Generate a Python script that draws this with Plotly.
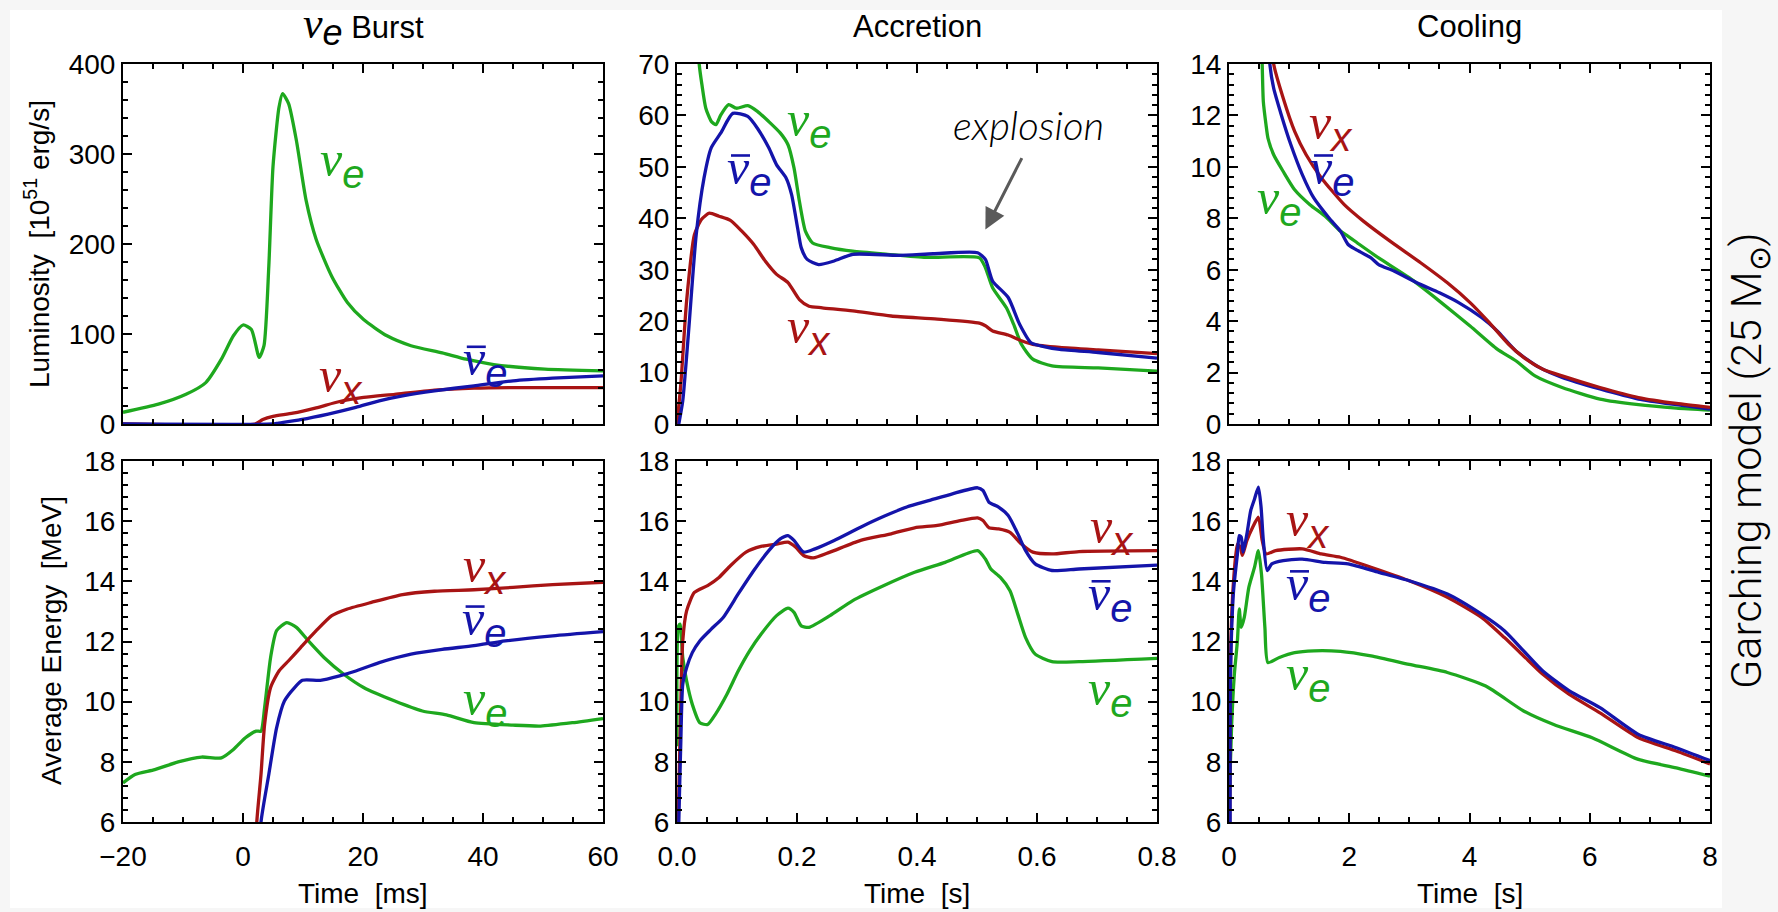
import plotly.graph_objects as go

# ---------------- data ----------------
# Panel 1: nu_e burst, luminosity [1e51 erg/s] vs time [ms]
lb_t_e = [-20, -14.1, -9.5, -6.2, -3.6, -1.6, 0, 1.4, 2.7, 3.5, 4.3, 5.0, 6.0, 6.6, 7.6, 8.9, 10.5,
          12.2, 14.8, 17.4, 20.1, 24.0, 28.0, 33.2, 37.2, 41.8, 50.3, 60]
lb_L_e = [13, 22, 33, 46, 72, 98, 110, 105, 74, 87, 175, 286, 352, 367, 356, 315, 249,
          205, 164, 135, 116, 98, 87, 79, 72, 66, 61, 59]
lb_t_x = [-20, 2.0, 3.3, 5.0, 8.3, 12.2, 16.1, 20.1, 25.3, 31.9, 38.5, 45, 60]
lb_L_x = [0, 0, 5, 8.5, 12, 18, 25, 29.5, 33, 37.6, 39.8, 40.5, 40.5]
lb_t_a = [-20, 5.0, 5.6, 9.6, 14.2, 18.8, 22.7, 26.6, 31.9, 38.5, 45, 51.6, 60]
lb_L_a = [0, 0, 0.7, 4.8, 11, 18.4, 25.8, 31.3, 36.9, 42.4, 48, 51, 53.5]

# Panel 2: accretion, luminosity vs time [s]
la_t_e = [0.03, 0.037, 0.0415, 0.048, 0.0574, 0.065, 0.073, 0.086, 0.099, 0.118, 0.134, 0.153, 0.172,
          0.185, 0.195, 0.204, 0.214, 0.226, 0.255, 0.293, 0.351, 0.415, 0.504, 0.514, 0.526, 0.549,
          0.561, 0.574, 0.593, 0.625, 0.702, 0.8]
la_L_e = [85, 70, 66, 61.4, 58.8, 58.2, 60.1, 62.1, 61.4, 61.9, 60.8, 58.8, 56.6,
          54.3, 49.8, 43.3, 37.5, 35.2, 34.3, 33.6, 33.0, 32.4, 32.3, 30.4, 26.5, 22.6,
          19.4, 15.5, 12.6, 11.3, 10.9, 10.3]
la_t_a = [0.003, 0.0096, 0.019, 0.032, 0.045, 0.057, 0.073, 0.093, 0.118, 0.134, 0.153, 0.166, 0.182,
          0.191, 0.201, 0.207, 0.217, 0.236, 0.262, 0.293, 0.37, 0.427, 0.501, 0.514, 0.526, 0.552,
          0.571, 0.590, 0.606, 0.638, 0.702, 0.8]
la_L_a = [0, 4.5, 17.5, 36.8, 47.8, 53.7, 56.6, 60.4, 59.8, 57.5, 53.7, 50.4, 47.8,
          44.6, 38.1, 34.3, 32.0, 31.0, 31.7, 33.0, 32.8, 33.1, 33.3, 32.0, 27.8, 24.6,
          19.4, 15.8, 15.2, 14.5, 13.9, 12.8]
la_t_x = [0, 0.0064, 0.016, 0.029, 0.041, 0.054, 0.070, 0.089, 0.108, 0.128, 0.147, 0.166, 0.185,
          0.204, 0.220, 0.242, 0.293, 0.357, 0.434, 0.504, 0.514, 0.526, 0.552, 0.574, 0.593,
          0.638, 0.702, 0.8]
la_L_x = [0, 7.8, 23.9, 36.8, 39.8, 41.0, 40.4, 39.6, 37.5, 34.9, 31.7, 29.1, 27.5,
          24.2, 22.9, 22.6, 22.0, 21.0, 20.4, 19.6, 19.1, 18.1, 17.3, 16.2, 15.5,
          14.9, 14.4, 13.7]

# Panel 3: cooling, luminosity vs time [s]
lc_t_e = [0.5, 0.552, 0.571, 0.616, 0.648, 0.743, 0.902, 1.092, 1.346, 1.6, 1.854, 1.981, 2.171,
          2.489, 2.997, 3.5, 4.01, 4.46, 4.77, 5.09, 5.54, 6.17, 6.81, 7.44, 8]
lc_L_e = [18, 14, 12.54, 11.63, 11.12, 10.47, 9.82, 9.11, 8.53, 8.08, 7.5, 7.3, 6.98,
          6.46, 5.69, 4.78, 3.81, 2.91, 2.46, 1.87, 1.42, 0.97, 0.75, 0.62, 0.54]
lc_t_a = [0.62, 0.679, 0.743, 0.87, 1.029, 1.219, 1.41, 1.664, 1.854, 1.981, 2.108, 2.362, 2.489,
          2.743, 3.124, 3.5, 3.82, 4.2, 4.46, 4.77, 5.16, 5.54, 6.17, 6.81, 7.44, 8]
lc_L_a = [17, 14, 13.06, 12.02, 10.86, 9.7, 8.79, 8.01, 7.5, 6.98, 6.79, 6.46, 6.2,
          5.95, 5.49, 5.1, 4.72, 4.14, 3.62, 2.84, 2.2, 1.81, 1.36, 0.97, 0.75, 0.58]
lc_t_x = [0.7, 0.743, 0.902, 1.092, 1.283, 1.537, 1.917, 2.235, 2.679, 3.187, 3.632, 4.01, 4.33,
          4.65, 4.9, 5.22, 5.54, 6.17, 6.81, 7.44, 8]
lc_L_x = [15.5, 14, 12.67, 11.38, 10.47, 9.57, 8.53, 7.89, 7.11, 6.27, 5.49, 4.72, 3.94,
          3.1, 2.59, 2.13, 1.87, 1.42, 1.03, 0.8, 0.65]

# Panel 4: nu_e burst, average energy [MeV] vs time [ms]
eb_t_e = [-20, -18, -14.7, -10.8, -6.9, -3.6, -1.6, 0.4, 2.2, 3.0, 3.6, 4.6, 5.6, 7.3, 8.9, 10.9,
          13.5, 16.8, 20.1, 25.3, 29.9, 33.9, 38.5, 45, 49.6, 54.9, 60]
eb_E_e = [7.3, 7.58, 7.74, 8.0, 8.16, 8.13, 8.41, 8.8, 9.02, 9.02, 9.8, 11.47, 12.36, 12.63, 12.47, 12.02,
          11.47, 10.91, 10.47, 10.02, 9.69, 9.56, 9.30, 9.22, 9.19, 9.30, 9.44]
eb_t_x = [2.2, 2.3, 3.0, 3.6, 4.6, 6.0, 7.6, 9.6, 12.2, 14.8, 17.4, 21.4, 26.6, 31.9, 38.5, 45, 51.6, 60]
eb_E_x = [5, 6, 7.58, 9.24, 10.47, 11.02, 11.36, 11.8, 12.36, 12.86, 13.08, 13.3, 13.56, 13.67, 13.72,
          13.8, 13.89, 13.97]
eb_t_a = [2.9, 3.0, 4.3, 5.6, 6.9, 8.6, 9.9, 12.9, 16.1, 18.8, 22.7, 28, 33.2, 38.5, 43.7, 51.6, 60]
eb_E_a = [5, 6, 7.58, 9.13, 10.02, 10.47, 10.71, 10.71, 10.86, 11.02, 11.3, 11.58, 11.74, 11.86, 12.02,
          12.19, 12.33]

# Panel 5: accretion, average energy vs time [s]
ea_t_x = [0.001, 0.002, 0.005, 0.0096, 0.016, 0.029, 0.051, 0.070, 0.089, 0.115, 0.14, 0.166, 0.185,
          0.198, 0.211, 0.227, 0.255, 0.306, 0.357, 0.396, 0.434, 0.472, 0.501, 0.51, 0.52, 0.536,
          0.555, 0.574, 0.593, 0.625, 0.67, 0.8]
ea_E_x = [5, 6, 8.69, 12.02, 13.02, 13.63, 13.86, 14.13, 14.52, 14.97, 15.16, 15.24, 15.3,
          15.13, 14.86, 14.78, 14.97, 15.36, 15.58, 15.78, 15.86, 16.02, 16.11, 16.02, 15.78, 15.74,
          15.63, 15.24, 14.97, 14.91, 14.99, 15.02]
ea_t_a = [0.002, 0.003, 0.0064, 0.0096, 0.016, 0.0255, 0.038, 0.057, 0.077, 0.102, 0.128, 0.153, 0.172,
          0.185, 0.195, 0.211, 0.23, 0.262, 0.306, 0.345, 0.383, 0.421, 0.459, 0.501, 0.51, 0.52,
          0.536, 0.552, 0.568, 0.581, 0.597, 0.625, 0.67, 0.8]
ea_E_a = [5, 6, 8.69, 10.58, 11.13, 11.63, 12.02, 12.41, 12.8, 13.58, 14.36, 15.02, 15.41,
          15.52, 15.36, 14.97, 15.08, 15.36, 15.8, 16.16, 16.47, 16.69, 16.91, 17.11, 17.02, 16.63,
          16.47, 16.19, 15.58, 15.02, 14.58, 14.36, 14.41, 14.54]
ea_t_e = [0, 0.002, 0.005, 0.0096, 0.016, 0.0255, 0.038, 0.051, 0.064, 0.083, 0.102, 0.121, 0.14,
          0.166, 0.185, 0.195, 0.207, 0.22, 0.255, 0.293, 0.345, 0.396, 0.447, 0.501, 0.514, 0.523,
          0.539, 0.555, 0.568, 0.581, 0.597, 0.625, 0.67, 0.8]
ea_E_e = [8.52, 12.47, 12.58, 11.47, 10.69, 9.91, 9.3, 9.24, 9.58, 10.24, 11.02, 11.69, 12.24,
          12.86, 13.11, 12.97, 12.52, 12.47, 12.86, 13.36, 13.86, 14.3, 14.63, 15.02, 14.74, 14.41,
          14.13, 13.69, 12.91, 12.13, 11.58, 11.33, 11.33, 11.44]

# Panel 6: cooling, average energy vs time [s]
ec_t_a = [0.02, 0.025, 0.076, 0.14, 0.171, 0.203, 0.235, 0.298, 0.362, 0.425, 0.489, 0.533, 0.571,
          0.635, 0.711, 0.902, 1.219, 1.6, 1.981, 2.489, 2.997, 3.632, 4.2, 4.58, 4.9, 5.22, 5.66,
          6.17, 6.81, 7.44, 8]
ec_E_a = [5, 10.91, 13.69, 14.91, 15.52, 15.47, 14.97, 15.58, 16.36, 16.74, 17.13, 16.47, 15.36,
          14.36, 14.58, 14.69, 14.74, 14.63, 14.58, 14.3, 14.02, 13.58, 12.91, 12.36, 11.69, 11.02, 10.36,
          9.8, 8.91, 8.47, 8.04]
ec_t_x = [0.01, 0.032, 0.076, 0.14, 0.19, 0.222, 0.298, 0.394, 0.489, 0.552, 0.616, 0.775, 1.219,
          1.537, 1.854, 2.362, 2.997, 3.632, 4.2, 4.58, 4.9, 5.22, 5.66, 6.17, 6.81, 7.44, 8]
ec_E_x = [5, 12.02, 14.02, 15.24, 15.13, 14.86, 15.36, 15.8, 16.13, 15.36, 14.91, 15.02, 15.08,
          14.91, 14.8, 14.47, 14.02, 13.47, 12.8, 12.13, 11.52, 10.91, 10.24, 9.63, 8.8, 8.36, 7.93]
ec_t_e = [0, 0.044, 0.089, 0.14, 0.171, 0.203, 0.254, 0.33, 0.425, 0.489, 0.54, 0.597, 0.648,
          0.838, 1.092, 1.41, 1.854, 2.362, 2.997, 3.632, 4.27, 4.9, 5.4, 6.04, 6.81, 7.44, 8]
ec_E_e = [6.47, 9.24, 10.91, 12.02, 13.08, 12.47, 12.8, 13.8, 14.47, 15.02, 14.24, 12.47, 11.3,
          11.47, 11.63, 11.69, 11.67, 11.52, 11.24, 10.97, 10.52, 9.69, 9.24, 8.8, 8.08, 7.8, 7.52]

# titles / labels
col_titles = ['Burst', 'Accretion', 'Cooling']
x_titles = ['Time  [ms]', 'Time  [s]', 'Time  [s]']
y_titles = ['Luminosity  [10<sup>51</sup> erg/s]', 'Average Energy  [MeV]']
side_title = 'Garching model (25 M<sub>⊙</sub>)'
explosion_text = 'explosion'

# label positions (data coords) for the flavour labels: (panel, flavour, x, y)
flavour_labels = [
    (1, 'e', 16.5, 289), (1, 'x', 16.3, 50), (1, 'a', 40.3, 68),
    (2, 'e', 0.22, 58.5), (2, 'a', 0.12, 49.1), (2, 'x', 0.22, 18.1),
    (3, 'x', 1.695, 11.57), (3, 'a', 1.714, 9.82), (3, 'e', 0.825, 8.66),
    (4, 'x', 40.3, 14.41), (4, 'a', 40.1, 12.63), (4, 'e', 40.3, 9.97),
    (5, 'x', 0.725, 15.69), (5, 'a', 0.721, 13.47), (5, 'e', 0.721, 10.3),
    (6, 'x', 1.314, 15.91), (6, 'a', 1.314, 13.8), (6, 'e', 1.314, 10.8),
]
explosion_pos = (0.586, 58.2)
arrow_tail = (0.576, 52.0)
arrow_head = (0.514, 37.8)

# ---------------- styling ----------------
W, H = 1778, 912
GREEN = '#1ea81e'
RED = '#a81414'
BLUE = '#1414aa'
COLORS = {'e': GREEN, 'x': RED, 'a': BLUE}
SANS = 'Liberation Sans'

xpix = [(123, 603), (677, 1157), (1229, 1710)]
ypix = [(64, 424), (461, 822)]


def xd(i):
    a, b = xpix[i]
    return [a / W, b / W]


def yd(r):
    a, b = ypix[r]
    return [1 - b / H, 1 - a / H]


series = {
    1: [(lb_t_e, lb_L_e, 'e'), (lb_t_x, lb_L_x, 'x'), (lb_t_a, lb_L_a, 'a')],
    2: [(la_t_e, la_L_e, 'e'), (la_t_x, la_L_x, 'x'), (la_t_a, la_L_a, 'a')],
    3: [(lc_t_e, lc_L_e, 'e'), (lc_t_a, lc_L_a, 'a'), (lc_t_x, lc_L_x, 'x')],
    4: [(eb_t_e, eb_E_e, 'e'), (eb_t_a, eb_E_a, 'a'), (eb_t_x, eb_E_x, 'x')],
    5: [(ea_t_e, ea_E_e, 'e'), (ea_t_x, ea_E_x, 'x'), (ea_t_a, ea_E_a, 'a')],
    6: [(ec_t_e, ec_E_e, 'e'), (ec_t_x, ec_E_x, 'x'), (ec_t_a, ec_E_a, 'a')],
}

fig = go.Figure()
for p, lst in series.items():
    sfx = '' if p == 1 else str(p)
    for xs, ys, f in lst:
        fig.add_trace(go.Scatter(x=xs, y=ys, mode='lines', xaxis='x' + sfx, yaxis='y' + sfx,
                                 line=dict(color=COLORS[f], width=3.3, shape='spline', smoothing=0.6),
                                 showlegend=False, hoverinfo='skip'))

x_ranges = [[-20, 60], [0, 0.8], [0, 8]]
x_dticks = [20, 0.2, 2]
x_fmt = ['', '.1f', '']
y_ranges = [[[0, 400], [0, 70], [0, 14]], [[6, 18], [6, 18], [6, 18]]]
y_dticks = [[100, 10, 2], [2, 2, 2]]

base_ax = dict(showline=True, linecolor='black', linewidth=2, mirror='allticks', ticks='inside',
               ticklen=9, tickwidth=1.8, tickcolor='black', showgrid=False, zeroline=False,
               automargin=False,
               tickfont=dict(family=SANS, size=28, color='black'), fixedrange=True)

layout_axes = {}
for r in range(2):
    for c in range(3):
        p = r * 3 + c + 1
        sfx = '' if p == 1 else str(p)
        xa = dict(base_ax)
        xa.update(domain=xd(c), anchor='y' + sfx, range=x_ranges[c], dtick=x_dticks[c], tick0=0,
                  tickformat=x_fmt[c], showticklabels=(r == 1), ticklabelstandoff=8,
                  minor=dict(ticks='inside', ticklen=5, tickwidth=1.5, tickcolor='black',
                             dtick=x_dticks[c] / 4, tick0=0, showgrid=False))
        ya = dict(base_ax)
        ya.update(domain=yd(r), anchor='x' + sfx, range=y_ranges[r][c], dtick=y_dticks[r][c], tick0=0,
                  minor=dict(ticks='inside', ticklen=5, tickwidth=1.5, tickcolor='black',
                             dtick=y_dticks[r][c] / 5, tick0=0, showgrid=False))
        layout_axes['xaxis' + sfx] = xa
        layout_axes['yaxis' + sfx] = ya


def nu_html(flav, nu_size=50, sub_size=40):
    sub = 'e' if flav in ('e', 'a') else 'x'
    st = "font-family:'Liberation Serif';font-size:%dpx" % nu_size
    return ('<span style="%s"><i>ν</i></span><sub><span style="font-family:\'Liberation Sans\';'
            'font-size:%dpx"><i>%s</i></span></sub>' % (st, sub_size, sub))


ann = []
shapes = [dict(type='rect', xref='paper', yref='paper', x0=10 / W, x1=1722 / W, y0=1 - 908 / H,
               y1=1 - 10 / H, fillcolor='white', line=dict(width=0), layer='below')]
for p, f, x, y in flavour_labels:
    sfx = '' if p == 1 else str(p)
    ann.append(dict(x=x, y=y, xref='x' + sfx, yref='y' + sfx, text=nu_html(f), showarrow=False,
                    xanchor='center', yanchor='middle', font=dict(family=SANS, size=58, color=COLORS[f])))
    if f == 'a':
        # the bar of the anti-neutrino symbol, placed over the nu glyph
        shapes.append(dict(type='line', xref='x' + sfx, yref='y' + sfx, xsizemode='pixel',
                           ysizemode='pixel', xanchor=x, yanchor=y, x0=-18, x1=1, y0=16, y1=16,
                           line=dict(color=COLORS[f], width=2.6)))

# column titles
title_texts = [nu_html('e', 44, 36) + ' ' + col_titles[0], col_titles[1], col_titles[2]]
for c in range(3):
    a, b = xpix[c]
    ann.append(dict(x=(a + b) / 2 / W, y=1 - 26 / H, xref='paper', yref='paper', text=title_texts[c],
                    showarrow=False, xanchor='center', yanchor='middle',
                    font=dict(family=SANS, size=31, color='black')))
    ann.append(dict(x=(a + b) / 2 / W, y=1 - 893 / H, xref='paper', yref='paper', text=x_titles[c],
                    showarrow=False, xanchor='center', yanchor='middle',
                    font=dict(family=SANS, size=28, color='black')))

# y titles
ann.append(dict(x=37 / W, y=1 - 244 / H, xref='paper', yref='paper', text=y_titles[0], textangle=-90,
                showarrow=False, xanchor='center', yanchor='middle',
                font=dict(family=SANS, size=28, color='black')))
ann.append(dict(x=51 / W, y=1 - 641 / H, xref='paper', yref='paper', text=y_titles[1], textangle=-90,
                showarrow=False, xanchor='center', yanchor='middle',
                font=dict(family=SANS, size=28, color='black')))

# side title
ann.append(dict(x=1749 / W, y=1 - 461 / H, xref='paper', yref='paper', text=side_title, textangle=-90,
                showarrow=False, xanchor='center', yanchor='middle',
                font=dict(family='Roboto', size=43, color='black', weight=300)))

# explosion annotation
ann.append(dict(x=explosion_pos[0], y=explosion_pos[1], xref='x2', yref='y2', text=explosion_text,
                showarrow=False, xanchor='center', yanchor='middle',
                font=dict(family='Lato', size=40, color='black', style='italic', weight=300)))
ann.append(dict(x=arrow_head[0], y=arrow_head[1], ax=arrow_tail[0], ay=arrow_tail[1], xref='x2', yref='y2',
                axref='x2', ayref='y2', text='', showarrow=True, arrowhead=2, arrowsize=1.4,
                arrowwidth=3, arrowcolor='#5a5a5a'))

fig.update_layout(
    width=W, height=H, autosize=False, margin=dict(l=0, r=0, t=0, b=0, pad=0, autoexpand=False),
    paper_bgcolor='#f6f6f6', plot_bgcolor='white', showlegend=False,
    annotations=ann, shapes=shapes,
    **layout_axes,
)

fig.write_html('out.html')
